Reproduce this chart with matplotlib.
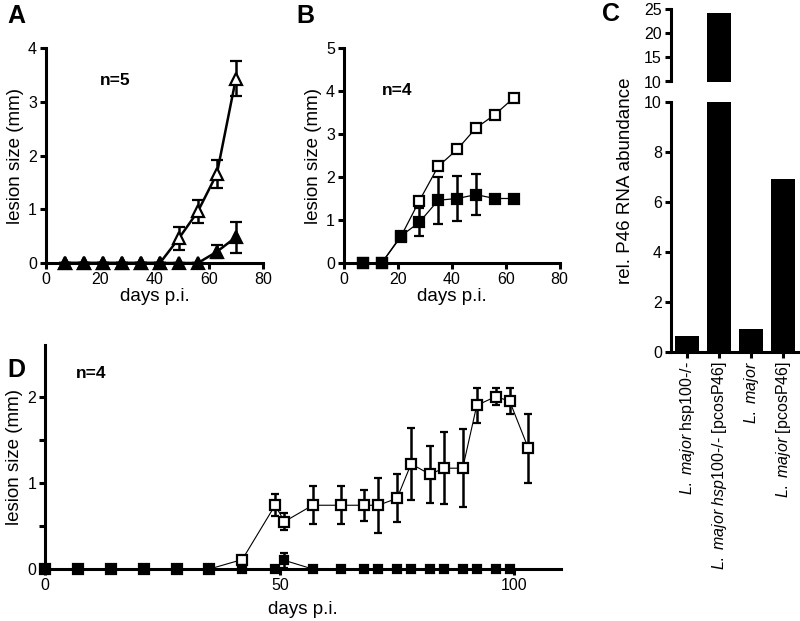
import numpy as np
import matplotlib.pyplot as plt

plt.rcParams['font.family'] = ['Liberation Sans', 'DejaVu Sans']
plt.rcParams['mathtext.fontset'] = 'custom'
plt.rcParams['mathtext.rm'] = 'Liberation Sans'
plt.rcParams['mathtext.it'] = 'Liberation Sans:italic'

# Panel A: lesion size, n=5
days_a = [7, 14, 21, 28, 35, 42, 49, 56, 63, 70]
a_open = [0, 0, 0, 0, 0, 0, 0.46, 0.96, 1.66, 3.43]
a_open_err = [0, 0, 0, 0, 0, 0, 0.21, 0.22, 0.26, 0.32]
a_filled = [0, 0, 0, 0, 0, 0, 0, 0, 0.21, 0.48]
a_filled_err = [0, 0, 0, 0, 0, 0, 0, 0, 0.12, 0.29]

# Panel B: lesion size, n=4
days_b = [7, 14, 21, 28, 35, 42, 49, 56, 63]
b_open = [0, 0, 0.60, 1.45, 2.25, 2.64, 3.14, 3.45, 3.84]
b_open_err = [0, 0, 0, 0, 0.08, 0.07, 0, 0, 0]
b_filled = [0, 0, 0.62, 0.95, 1.46, 1.50, 1.59, 1.50, 1.50]
b_filled_err = [0, 0, 0.05, 0.33, 0.55, 0.52, 0.47, 0, 0]

# Panel C: relative P46 RNA abundance
c_labels = [r'$\mathit{L.\ major}$ hsp100-/-',
            r'$\mathit{L.\ major\ hsp100}$-/- [pcosP46]',
            r'$\mathit{L.\ major}$',
            r'$\mathit{L.\ major}$ [pcosP46]']
c_values = [0.65, 24.1, 0.92, 6.92]

# Panel D: lesion size, n=4
days_d = [0, 7, 14, 21, 28, 35, 42, 49, 51, 57, 63, 68, 71, 75, 78, 82, 85, 89, 92, 96, 99, 103]
d_open = [0, 0, 0, 0, 0, 0, 0.11, 0.74, 0.55, 0.74, 0.74, 0.74, 0.74, 0.82, 1.22, 1.10,
          1.17, 1.17, 1.90, 2.00, 1.95, 1.40]
d_open_err = [0, 0, 0, 0, 0, 0, 0, 0.13, 0.10, 0.22, 0.22, 0.18, 0.32, 0.28, 0.42, 0.33,
              0.42, 0.45, 0.20, 0.10, 0.15, 0.40]
days_d_filled = days_d[:-1]
d_filled = [0, 0, 0, 0, 0, 0, 0, 0, 0.10, 0, 0, 0, 0, 0, 0, 0, 0, 0, 0, 0, 0]
d_filled_err = [0, 0, 0, 0, 0, 0, 0, 0, 0.09, 0, 0, 0, 0, 0, 0, 0, 0, 0, 0, 0, 0]

W, H = 800, 621
fig = plt.figure(figsize=(W / 100, H / 100), dpi=100)


def px_axes(left, top, right, bottom):
    return fig.add_axes([left / W, 1 - bottom / H, (right - left) / W, (bottom - top) / H])


def style(ax, bottom=True):
    ax.spines['top'].set_visible(False)
    ax.spines['right'].set_visible(False)
    ax.spines['left'].set_linewidth(2.2)
    ax.spines['bottom'].set_linewidth(2.2)
    if not bottom:
        ax.spines['bottom'].set_visible(False)
    ax.tick_params(width=2.2, length=4.5, labelsize=11.5, direction='out', pad=2)
    ax.tick_params(which='minor', width=2.2, length=4.5)


def plot_series(ax, x, y, err, marker, face, ms, lw, cap, elw, z):
    ax.errorbar(x, y, yerr=err, fmt='-', marker=marker, color='black', mfc=face,
                mec='black', ms=ms, mew=1.6, lw=lw, capsize=cap, elinewidth=elw,
                capthick=elw, clip_on=False, zorder=z)


# A
axA = px_axes(46, 48, 263, 263)
plot_series(axA, days_a, a_open, a_open_err, '^', 'white', 9, 1.8, 4.3, 1.8, 3)
plot_series(axA, days_a, a_filled, a_filled_err, '^', 'black', 8, 1.8, 4.3, 1.8, 4)
axA.set_xlim(0, 80)
axA.set_ylim(0, 4)
axA.set_xticks([0, 20, 40, 60, 80])
axA.set_yticks([0, 1, 2, 3, 4])
style(axA)
axA.set_xlabel('days p.i.', fontsize=13.5, labelpad=1)
axA.set_ylabel('lesion size (mm)', fontsize=13.5, labelpad=3)
axA.text(20, 3.4, 'n=5', fontsize=12.5, fontweight='bold', va='center')

# B
axB = px_axes(344, 48, 559.5, 263)
plot_series(axB, days_b, b_open, b_open_err, 's', 'white', 7, 0.9, 3.5, 1.8, 3)
plot_series(axB, days_b, b_filled, b_filled_err, 's', 'black', 6.5, 0.9, 3.5, 1.8, 4)
axB.set_xlim(0, 80)
axB.set_ylim(0, 5)
axB.set_xticks([0, 20, 40, 60, 80])
axB.set_yticks([0, 1, 2, 3, 4, 5])
style(axB)
axB.set_xlabel('days p.i.', fontsize=13.5, labelpad=1)
axB.set_ylabel('lesion size (mm)', fontsize=13.5, labelpad=3)
axB.text(14, 4.02, 'n=4', fontsize=12.5, fontweight='bold', va='center')

# C (broken axis)
xc = np.arange(len(c_values))
axCt = px_axes(671, 9, 800, 81.5)
axCb = px_axes(671, 101.7, 800, 352.3)
for ax in (axCt, axCb):
    ax.bar(xc, c_values, width=0.75, color='black')
    ax.set_xlim(-0.5, 3.53)
axCt.set_ylim(10, 25)
axCt.set_yticks([10, 15, 20, 25])
axCt.set_xticks([])
style(axCt, bottom=False)
axCb.set_ylim(0, 10)
axCb.set_yticks([0, 2, 4, 6, 8, 10])
axCb.set_xticks(xc)
axCb.set_xticklabels(c_labels, rotation=90, fontsize=11.5)
style(axCb)
fig.text(626 / W, 1 - 181 / H, 'rel. P46 RNA abundance', rotation=90, fontsize=13.5,
         ha='center', va='center')

# D
axD = px_axes(45.3, 345, 45.3 + 110 * 4.69, 569)
plot_series(axD, days_d, d_open, d_open_err, 's', 'white', 7, 0.8, 2.6, 1.8, 3)
plot_series(axD, days_d_filled, d_filled, d_filled_err, 's', 'black', 6, 0.8, 2.6, 1.8, 4)
axD.set_xlim(0, 110)
axD.set_ylim(0, 2.6)
axD.set_xticks([0, 50, 100])
axD.set_yticks([0, 1, 2])
axD.set_yticks([0.5, 1.5], minor=True)
style(axD)
axD.set_xlabel('days p.i.', fontsize=13.5, labelpad=6)
axD.set_ylabel('lesion size (mm)', fontsize=13.5, labelpad=3)
axD.text(6.5, 2.27, 'n=4', fontsize=12.5, fontweight='bold', va='center')

# panel letters
for lab, x, y in [('A', 16, 16), ('B', 305, 16), ('C', 611, 14), ('D', 16, 370)]:
    fig.text(x / W, 1 - y / H, lab, fontsize=18, fontweight='bold', ha='center', va='center')

fig.savefig('out.png', dpi=100)
